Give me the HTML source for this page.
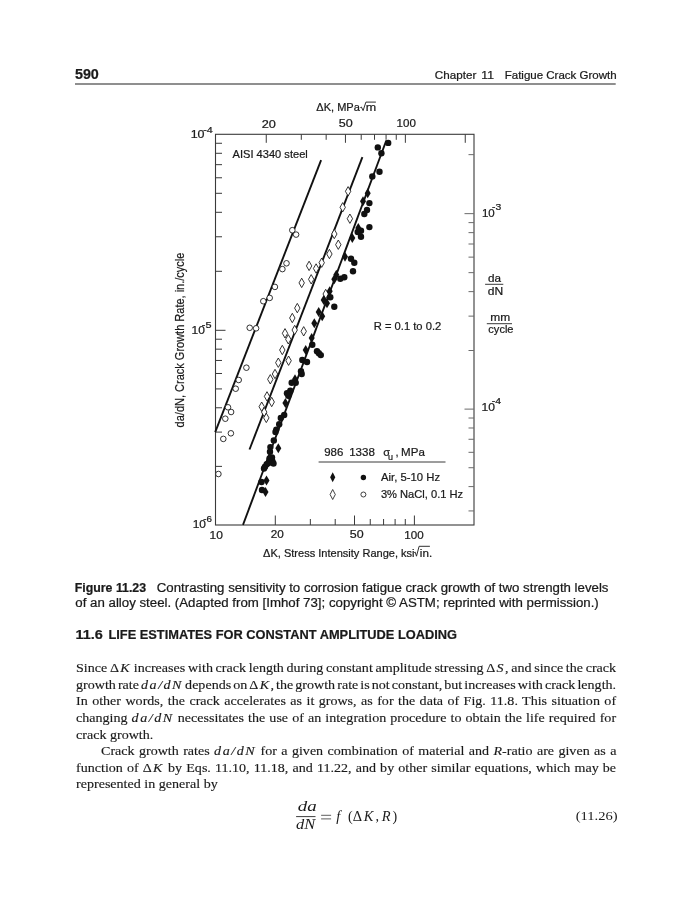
<!DOCTYPE html>
<html><head><meta charset="utf-8"><style>
html,body{margin:0;padding:0;background:#fff}
body{filter:grayscale(1)}
body{width:690px;height:900px;position:relative;overflow:hidden}
svg{position:absolute;left:0;top:0}
.b{position:absolute;height:0;line-height:0;white-space:nowrap;font-family:"Liberation Serif",serif;font-size:13.4px;color:#1a1a1a;transform:scaleX(1.05);transform-origin:0 0;-webkit-text-stroke:0.15px #1a1a1a}
.j{text-align:justify;text-align-last:justify;white-space:normal}
.b span.in{display:inline-block}
i.m{letter-spacing:1.45px}
i.k{margin:0 1.4px 0 1.2px}
.eq{position:absolute;height:0;line-height:0;white-space:nowrap;font-family:"Liberation Serif",serif;font-size:13px;color:#1a1a1a}
</style></head><body>
<svg width="690" height="900" viewBox="0 0 690 900">
<line x1="75" y1="84.1" x2="615.7" y2="84.1" stroke="#6a6a6a" stroke-width="1.5"/>
<rect x="215.5" y="134.3" width="258.5" height="390.7" fill="none" stroke="#3a3a3a" stroke-width="1.1"/>
<line x1="275.30" y1="525.00" x2="275.30" y2="515.50" stroke="#3a3a3a" stroke-width="1"/>
<line x1="310.35" y1="525.00" x2="310.35" y2="519.00" stroke="#3a3a3a" stroke-width="1"/>
<line x1="335.21" y1="525.00" x2="335.21" y2="519.00" stroke="#3a3a3a" stroke-width="1"/>
<line x1="354.50" y1="525.00" x2="354.50" y2="515.50" stroke="#3a3a3a" stroke-width="1"/>
<line x1="370.25" y1="525.00" x2="370.25" y2="519.00" stroke="#3a3a3a" stroke-width="1"/>
<line x1="383.57" y1="525.00" x2="383.57" y2="519.00" stroke="#3a3a3a" stroke-width="1"/>
<line x1="395.11" y1="525.00" x2="395.11" y2="519.00" stroke="#3a3a3a" stroke-width="1"/>
<line x1="405.29" y1="525.00" x2="405.29" y2="519.00" stroke="#3a3a3a" stroke-width="1"/>
<line x1="414.40" y1="525.00" x2="414.40" y2="515.50" stroke="#3a3a3a" stroke-width="1"/>
<line x1="266.26" y1="134.30" x2="266.26" y2="142.80" stroke="#3a3a3a" stroke-width="1"/>
<line x1="301.30" y1="134.30" x2="301.30" y2="139.80" stroke="#3a3a3a" stroke-width="1"/>
<line x1="326.17" y1="134.30" x2="326.17" y2="139.80" stroke="#3a3a3a" stroke-width="1"/>
<line x1="345.45" y1="134.30" x2="345.45" y2="142.80" stroke="#3a3a3a" stroke-width="1"/>
<line x1="361.21" y1="134.30" x2="361.21" y2="139.80" stroke="#3a3a3a" stroke-width="1"/>
<line x1="374.53" y1="134.30" x2="374.53" y2="139.80" stroke="#3a3a3a" stroke-width="1"/>
<line x1="386.07" y1="134.30" x2="386.07" y2="139.80" stroke="#3a3a3a" stroke-width="1"/>
<line x1="396.25" y1="134.30" x2="396.25" y2="139.80" stroke="#3a3a3a" stroke-width="1"/>
<line x1="405.36" y1="134.30" x2="405.36" y2="142.80" stroke="#3a3a3a" stroke-width="1"/>
<line x1="465.26" y1="134.30" x2="465.26" y2="142.80" stroke="#3a3a3a" stroke-width="1"/>
<line x1="215.50" y1="466.39" x2="222.00" y2="466.39" stroke="#3a3a3a" stroke-width="1"/>
<line x1="215.50" y1="432.10" x2="222.00" y2="432.10" stroke="#3a3a3a" stroke-width="1"/>
<line x1="215.50" y1="407.78" x2="222.00" y2="407.78" stroke="#3a3a3a" stroke-width="1"/>
<line x1="215.50" y1="388.91" x2="222.00" y2="388.91" stroke="#3a3a3a" stroke-width="1"/>
<line x1="215.50" y1="373.49" x2="222.00" y2="373.49" stroke="#3a3a3a" stroke-width="1"/>
<line x1="215.50" y1="360.46" x2="222.00" y2="360.46" stroke="#3a3a3a" stroke-width="1"/>
<line x1="215.50" y1="349.17" x2="222.00" y2="349.17" stroke="#3a3a3a" stroke-width="1"/>
<line x1="215.50" y1="339.21" x2="222.00" y2="339.21" stroke="#3a3a3a" stroke-width="1"/>
<line x1="215.50" y1="330.30" x2="225.50" y2="330.30" stroke="#3a3a3a" stroke-width="1"/>
<line x1="215.50" y1="271.30" x2="222.00" y2="271.30" stroke="#3a3a3a" stroke-width="1"/>
<line x1="215.50" y1="236.78" x2="222.00" y2="236.78" stroke="#3a3a3a" stroke-width="1"/>
<line x1="215.50" y1="212.30" x2="222.00" y2="212.30" stroke="#3a3a3a" stroke-width="1"/>
<line x1="215.50" y1="193.30" x2="222.00" y2="193.30" stroke="#3a3a3a" stroke-width="1"/>
<line x1="215.50" y1="177.78" x2="222.00" y2="177.78" stroke="#3a3a3a" stroke-width="1"/>
<line x1="215.50" y1="164.66" x2="222.00" y2="164.66" stroke="#3a3a3a" stroke-width="1"/>
<line x1="215.50" y1="153.29" x2="222.00" y2="153.29" stroke="#3a3a3a" stroke-width="1"/>
<line x1="215.50" y1="143.27" x2="222.00" y2="143.27" stroke="#3a3a3a" stroke-width="1"/>
<line x1="474.00" y1="510.93" x2="468.50" y2="510.93" stroke="#6a6a6a" stroke-width="1"/>
<line x1="474.00" y1="486.60" x2="468.50" y2="486.60" stroke="#6a6a6a" stroke-width="1"/>
<line x1="474.00" y1="467.73" x2="468.50" y2="467.73" stroke="#6a6a6a" stroke-width="1"/>
<line x1="474.00" y1="452.32" x2="468.50" y2="452.32" stroke="#6a6a6a" stroke-width="1"/>
<line x1="474.00" y1="439.28" x2="468.50" y2="439.28" stroke="#6a6a6a" stroke-width="1"/>
<line x1="474.00" y1="427.99" x2="468.50" y2="427.99" stroke="#6a6a6a" stroke-width="1"/>
<line x1="474.00" y1="418.03" x2="468.50" y2="418.03" stroke="#6a6a6a" stroke-width="1"/>
<line x1="474.00" y1="409.12" x2="464.50" y2="409.12" stroke="#6a6a6a" stroke-width="1"/>
<line x1="474.00" y1="350.51" x2="468.50" y2="350.51" stroke="#6a6a6a" stroke-width="1"/>
<line x1="474.00" y1="316.13" x2="468.50" y2="316.13" stroke="#6a6a6a" stroke-width="1"/>
<line x1="474.00" y1="291.64" x2="468.50" y2="291.64" stroke="#6a6a6a" stroke-width="1"/>
<line x1="474.00" y1="272.65" x2="468.50" y2="272.65" stroke="#6a6a6a" stroke-width="1"/>
<line x1="474.00" y1="257.13" x2="468.50" y2="257.13" stroke="#6a6a6a" stroke-width="1"/>
<line x1="474.00" y1="244.01" x2="468.50" y2="244.01" stroke="#6a6a6a" stroke-width="1"/>
<line x1="474.00" y1="232.64" x2="468.50" y2="232.64" stroke="#6a6a6a" stroke-width="1"/>
<line x1="474.00" y1="222.62" x2="468.50" y2="222.62" stroke="#6a6a6a" stroke-width="1"/>
<line x1="474.00" y1="213.65" x2="464.50" y2="213.65" stroke="#6a6a6a" stroke-width="1"/>
<line x1="474.00" y1="154.65" x2="468.50" y2="154.65" stroke="#6a6a6a" stroke-width="1"/>
<line x1="321.1" y1="160.1" x2="215.2" y2="432.2" stroke="#111" stroke-width="1.9"/>
<line x1="362.4" y1="157.2" x2="249.5" y2="449.5" stroke="#111" stroke-width="1.9"/>
<line x1="386.3" y1="140.5" x2="243.0" y2="524.9" stroke="#111" stroke-width="1.9"/>
<g fill="#fff" stroke="#111" stroke-width="0.85">
<circle cx="292.3" cy="230.2" r="2.8"/>
<circle cx="296.1" cy="234.6" r="2.8"/>
<circle cx="286.5" cy="263.3" r="2.8"/>
<circle cx="282.4" cy="269.1" r="2.8"/>
<circle cx="274.9" cy="286.9" r="2.8"/>
<circle cx="269.7" cy="297.9" r="2.8"/>
<circle cx="263.3" cy="301.2" r="2.8"/>
<circle cx="249.7" cy="327.8" r="2.8"/>
<circle cx="256.1" cy="328.3" r="2.8"/>
<circle cx="246.4" cy="367.7" r="2.8"/>
<circle cx="238.7" cy="380" r="2.8"/>
<circle cx="235.7" cy="388.7" r="2.8"/>
<circle cx="228" cy="407.3" r="2.8"/>
<circle cx="231.1" cy="412" r="2.8"/>
<circle cx="225.3" cy="418.7" r="2.8"/>
<circle cx="230.9" cy="433.3" r="2.8"/>
<circle cx="223.3" cy="438.9" r="2.8"/>
<circle cx="218.4" cy="474" r="2.8"/>
<path d="M348.1,186.6L350.8,191.3L348.1,196.0L345.4,191.3Z"/>
<path d="M342.7,202.6L345.4,207.3L342.7,212.0L340.0,207.3Z"/>
<path d="M349.9,214.0L352.6,218.7L349.9,223.4L347.2,218.7Z"/>
<path d="M334.3,229.3L337.0,234.0L334.3,238.7L331.6,234.0Z"/>
<path d="M338.3,240.0L341.0,244.7L338.3,249.4L335.6,244.7Z"/>
<path d="M329.4,249.3L332.1,254.0L329.4,258.7L326.7,254.0Z"/>
<path d="M321.7,258.0L324.4,262.7L321.7,267.4L319.0,262.7Z"/>
<path d="M309.1,261.2L311.8,265.9L309.1,270.6L306.4,265.9Z"/>
<path d="M316.1,263.8L318.8,268.5L316.1,273.2L313.4,268.5Z"/>
<path d="M311.2,274.6L313.9,279.3L311.2,284.0L308.5,279.3Z"/>
<path d="M301.7,278.2L304.4,282.9L301.7,287.6L299.0,282.9Z"/>
<path d="M325.7,289.3L328.4,294.0L325.7,298.7L323.0,294.0Z"/>
<path d="M297.3,303.4L300.0,308.1L297.3,312.8L294.6,308.1Z"/>
<path d="M292.3,313.3L295.0,318.0L292.3,322.7L289.6,318.0Z"/>
<path d="M294.7,325.3L297.4,330.0L294.7,334.7L292.0,330.0Z"/>
<path d="M303.7,326.6L306.4,331.3L303.7,336.0L301.0,331.3Z"/>
<path d="M285.0,328.6L287.7,333.3L285.0,338.0L282.3,333.3Z"/>
<path d="M288.3,334.6L291.0,339.3L288.3,344.0L285.6,339.3Z"/>
<path d="M282.3,345.3L285.0,350.0L282.3,354.7L279.6,350.0Z"/>
<path d="M288.6,356.0L291.3,360.7L288.6,365.4L285.9,360.7Z"/>
<path d="M278.3,358.0L281.0,362.7L278.3,367.4L275.6,362.7Z"/>
<path d="M275.0,369.3L277.7,374.0L275.0,378.7L272.3,374.0Z"/>
<path d="M270.3,374.6L273.0,379.3L270.3,384.0L267.6,379.3Z"/>
<path d="M267.0,391.7L269.7,396.4L267.0,401.1L264.3,396.4Z"/>
<path d="M271.7,397.3L274.4,402.0L271.7,406.7L269.0,402.0Z"/>
<path d="M261.7,402.0L264.4,406.7L261.7,411.4L259.0,406.7Z"/>
<path d="M264.2,407.4L266.9,412.1L264.2,416.8L261.5,412.1Z"/>
<path d="M266.3,413.2L269.0,417.9L266.3,422.6L263.6,417.9Z"/>
</g>
<g fill="#111">
<circle cx="388.2" cy="142.9" r="3.2"/>
<circle cx="377.8" cy="147.4" r="3.2"/>
<circle cx="381.4" cy="153.3" r="3.2"/>
<circle cx="379.5" cy="171.8" r="3.2"/>
<circle cx="372.3" cy="176.4" r="3.2"/>
<circle cx="369.4" cy="203.1" r="3.2"/>
<circle cx="367" cy="210" r="3.2"/>
<circle cx="364.3" cy="214" r="3.2"/>
<circle cx="369.4" cy="227.1" r="3.2"/>
<circle cx="361" cy="230.7" r="3.2"/>
<circle cx="357.7" cy="232" r="3.2"/>
<circle cx="361" cy="236.7" r="3.2"/>
<circle cx="351" cy="258.7" r="3.2"/>
<circle cx="354.3" cy="262.7" r="3.2"/>
<circle cx="353" cy="271.3" r="3.2"/>
<circle cx="340.3" cy="278.7" r="3.2"/>
<circle cx="344.3" cy="277.3" r="3.2"/>
<circle cx="330.3" cy="297.3" r="3.2"/>
<circle cx="334.3" cy="306.7" r="3.2"/>
<circle cx="312.3" cy="344.7" r="3.2"/>
<circle cx="317" cy="351.3" r="3.2"/>
<circle cx="318.9" cy="353.2" r="3.2"/>
<circle cx="320.8" cy="355.1" r="3.2"/>
<circle cx="302.3" cy="360" r="3.2"/>
<circle cx="307" cy="362" r="3.2"/>
<circle cx="301" cy="371.3" r="3.2"/>
<circle cx="301.7" cy="374" r="3.2"/>
<circle cx="291.7" cy="382.7" r="3.2"/>
<circle cx="295.7" cy="382.7" r="3.2"/>
<circle cx="290.3" cy="390.7" r="3.2"/>
<circle cx="287" cy="393.3" r="3.2"/>
<circle cx="288.3" cy="395.8" r="3.2"/>
<circle cx="284.2" cy="415" r="3.2"/>
<circle cx="280.8" cy="417.9" r="3.2"/>
<circle cx="279.2" cy="424.2" r="3.2"/>
<circle cx="276.3" cy="429.6" r="3.2"/>
<circle cx="275.5" cy="432" r="3.2"/>
<circle cx="273.8" cy="440.4" r="3.2"/>
<circle cx="270.4" cy="447.1" r="3.2"/>
<circle cx="270" cy="451.7" r="3.2"/>
<circle cx="271.3" cy="460.8" r="3.2"/>
<circle cx="266.7" cy="464.2" r="3.2"/>
<circle cx="265" cy="466.7" r="3.2"/>
<circle cx="272.5" cy="461.5" r="3.2"/>
<circle cx="272" cy="457.5" r="3.2"/>
<circle cx="269.5" cy="458.5" r="3.2"/>
<circle cx="268.5" cy="463" r="3.2"/>
<circle cx="264" cy="468.5" r="3.2"/>
<circle cx="273.5" cy="463.5" r="3.2"/>
<circle cx="261.5" cy="482" r="3.2"/>
<circle cx="262" cy="490" r="3.2"/>
<path d="M367.7,188.3L370.7,193.3L367.7,198.3L364.7,193.3Z"/>
<path d="M363.0,196.3L366.0,201.3L363.0,206.3L360.0,201.3Z"/>
<path d="M358.3,223.0L361.3,228.0L358.3,233.0L355.3,228.0Z"/>
<path d="M352.3,233.0L355.3,238.0L352.3,243.0L349.3,238.0Z"/>
<path d="M345.0,251.7L348.0,256.7L345.0,261.7L342.0,256.7Z"/>
<path d="M336.3,269.7L339.3,274.7L336.3,279.7L333.3,274.7Z"/>
<path d="M334.3,274.3L337.3,279.3L334.3,284.3L331.3,279.3Z"/>
<path d="M329.7,286.3L332.7,291.3L329.7,296.3L326.7,291.3Z"/>
<path d="M323.7,295.0L326.7,300.0L323.7,305.0L320.7,300.0Z"/>
<path d="M327.0,298.3L330.0,303.3L327.0,308.3L324.0,303.3Z"/>
<path d="M314.3,318.3L317.3,323.3L314.3,328.3L311.3,323.3Z"/>
<path d="M311.7,333.0L314.7,338.0L311.7,343.0L308.7,338.0Z"/>
<path d="M305.7,345.0L308.7,350.0L305.7,355.0L302.7,350.0Z"/>
<path d="M295.0,374.3L298.0,379.3L295.0,384.3L292.0,379.3Z"/>
<path d="M289.0,390.3L292.0,395.3L289.0,400.3L286.0,395.3Z"/>
<path d="M285.4,397.9L288.4,402.9L285.4,407.9L282.4,402.9Z"/>
<path d="M278.3,443.3L281.3,448.3L278.3,453.3L275.3,448.3Z"/>
<path d="M266.5,475.5L269.5,480.5L266.5,485.5L263.5,480.5Z"/>
<path d="M265.5,487.0L268.5,492.0L265.5,497.0L262.5,492.0Z"/>
<path d="M318.7,307.0L321.7,312.0L318.7,317.0L315.7,312.0Z"/>
<path d="M322.2,311.3L325.2,316.3L322.2,321.3L319.2,316.3Z"/>
</g>
<line x1="318.6" y1="462" x2="445.5" y2="462" stroke="#3a3a3a" stroke-width="1"/>
<path d="M332.7,472.3L335.3,477.3L332.7,482.3L330.1,477.3Z" fill="#111"/>
<circle cx="363.4" cy="477.5" r="2.7" fill="#111"/>
<path d="M332.7,489.5L335.3,494.5L332.7,499.5L330.1,494.5Z" fill="#fff" stroke="#111" stroke-width="0.8"/>
<circle cx="363.4" cy="494.5" r="2.5" fill="#fff" stroke="#111" stroke-width="0.8"/>
<line x1="485.1" y1="284.3" x2="503.3" y2="284.3" stroke="#222" stroke-width="0.9"/>
<line x1="486.8" y1="323.7" x2="512" y2="323.7" stroke="#222" stroke-width="0.9"/>
<g font-family="Liberation Sans, sans-serif" fill="#1a1a1a" stroke="#1a1a1a" stroke-width="0.22" style="white-space:pre">
<text x="316.31" y="110.90" font-size="11.0" textLength="43.49" lengthAdjust="spacingAndGlyphs">ΔK, MPa</text>
<text x="365.84" y="110.90" font-size="11.0" textLength="10.42" lengthAdjust="spacingAndGlyphs">m</text>
<text x="261.81" y="128.20" font-size="11.0" textLength="14.16" lengthAdjust="spacingAndGlyphs">20</text>
<text x="338.79" y="127.00" font-size="11.0" textLength="13.98" lengthAdjust="spacingAndGlyphs">50</text>
<text x="396.59" y="127.00" font-size="11.0" textLength="19.32" lengthAdjust="spacingAndGlyphs">100</text>
<text x="190.68" y="138.10" font-size="11.0" textLength="13.88" lengthAdjust="spacingAndGlyphs">10</text>
<text x="203.25" y="132.90" font-size="9.0" textLength="9.48" lengthAdjust="spacingAndGlyphs">-4</text>
<text x="232.52" y="158.20" font-size="11.0" textLength="75.27" lengthAdjust="spacingAndGlyphs">AISI 4340 steel</text>
<text x="191.62" y="333.90" font-size="11.0" textLength="13.35" lengthAdjust="spacingAndGlyphs">10</text>
<text x="201.86" y="328.20" font-size="9.0" textLength="9.70" lengthAdjust="spacingAndGlyphs">-5</text>
<text x="192.72" y="527.90" font-size="11.0" textLength="13.28" lengthAdjust="spacingAndGlyphs">10</text>
<text x="203.19" y="522.00" font-size="9.0" textLength="8.70" lengthAdjust="spacingAndGlyphs">-6</text>
<text x="209.55" y="538.80" font-size="11.0" textLength="13.36" lengthAdjust="spacingAndGlyphs">10</text>
<text x="270.68" y="538.20" font-size="11.0" textLength="13.09" lengthAdjust="spacingAndGlyphs">20</text>
<text x="349.82" y="538.20" font-size="11.0" textLength="13.86" lengthAdjust="spacingAndGlyphs">50</text>
<text x="404.31" y="539.20" font-size="11.0" textLength="19.37" lengthAdjust="spacingAndGlyphs">100</text>
<text x="263.09" y="556.90" font-size="11.0" textLength="151.49" lengthAdjust="spacingAndGlyphs">ΔK, Stress Intensity Range, ksi</text>
<text x="419.87" y="556.90" font-size="11.0" textLength="12.30" lengthAdjust="spacingAndGlyphs">in.</text>
<text x="481.92" y="217.00" font-size="11.0" textLength="12.80" lengthAdjust="spacingAndGlyphs">10</text>
<text x="491.99" y="209.80" font-size="9.0" textLength="9.26" lengthAdjust="spacingAndGlyphs">-3</text>
<text x="481.45" y="411.20" font-size="11.0" textLength="13.48" lengthAdjust="spacingAndGlyphs">10</text>
<text x="491.77" y="404.00" font-size="9.0" textLength="9.30" lengthAdjust="spacingAndGlyphs">-4</text>
<text x="488.00" y="281.80" font-size="11.0" textLength="13.02" lengthAdjust="spacingAndGlyphs">da</text>
<text x="487.84" y="295.00" font-size="11.0" textLength="15.39" lengthAdjust="spacingAndGlyphs">dN</text>
<text x="490.39" y="321.10" font-size="11.0" textLength="19.88" lengthAdjust="spacingAndGlyphs">mm</text>
<text x="488.32" y="332.70" font-size="11.0" textLength="25.21" lengthAdjust="spacingAndGlyphs">cycle</text>
<text x="373.73" y="330.00" font-size="11.0" textLength="67.54" lengthAdjust="spacingAndGlyphs">R = 0.1 to 0.2</text>
<text x="324.22" y="456.10" font-size="11.0" textLength="19.10" lengthAdjust="spacingAndGlyphs">986</text>
<text x="349.17" y="456.10" font-size="11.0" textLength="25.70" lengthAdjust="spacingAndGlyphs">1338</text>
<text x="383.13" y="456.10" font-size="11.0">σ</text>
<text x="388.01" y="459.90" font-size="9.0">u</text>
<text x="395.46" y="456.10" font-size="11.0">,</text>
<text x="401.13" y="456.10" font-size="11.0" textLength="23.72" lengthAdjust="spacingAndGlyphs">MPa</text>
<text x="381.08" y="481.30" font-size="11.0" textLength="58.99" lengthAdjust="spacingAndGlyphs">Air, 5-10 Hz</text>
<text x="380.91" y="498.20" font-size="11.0" textLength="82.17" lengthAdjust="spacingAndGlyphs">3% NaCl, 0.1 Hz</text>
<text x="74.92" y="79.00" font-size="14.0" textLength="23.94" lengthAdjust="spacingAndGlyphs" font-weight="bold">590</text>
<text x="434.88" y="78.80" font-size="11.0" textLength="41.45" lengthAdjust="spacingAndGlyphs">Chapter</text>
<text x="481.33" y="78.80" font-size="11.0" textLength="12.62" lengthAdjust="spacingAndGlyphs">11</text>
<text x="504.70" y="78.80" font-size="11.0" textLength="112.01" lengthAdjust="spacingAndGlyphs">Fatigue Crack Growth</text>
<text x="74.75" y="592.00" font-size="12.0" textLength="71.34" lengthAdjust="spacingAndGlyphs" font-weight="bold">Figure 11.23</text>
<text x="156.78" y="592.00" font-size="12.0" textLength="451.71" lengthAdjust="spacingAndGlyphs">Contrasting sensitivity to corrosion fatigue crack growth of two strength levels</text>
<text x="75.39" y="606.80" font-size="12.0" textLength="523.38" lengthAdjust="spacingAndGlyphs">of an alloy steel. (Adapted from [Imhof 73]; copyright © ASTM; reprinted with permission.)</text>
<text x="75.42" y="638.50" font-size="13.5" textLength="27.47" lengthAdjust="spacingAndGlyphs" font-weight="bold">11.6</text>
<text x="108.42" y="638.50" font-size="13.5" textLength="348.67" lengthAdjust="spacingAndGlyphs" font-weight="bold">LIFE ESTIMATES FOR CONSTANT AMPLITUDE LOADING</text>
<text x="297.69" y="810.60" font-size="14.0" textLength="18.95" lengthAdjust="spacingAndGlyphs" font-family="Liberation Serif" stroke="none" font-style="italic">da</text>
<text x="296.12" y="829.30" font-size="14.0" textLength="19.21" lengthAdjust="spacingAndGlyphs" font-family="Liberation Serif" stroke="none" font-style="italic">dN</text>
<text x="336.37" y="820.50" font-size="14.5" font-family="Liberation Serif" stroke="none" font-style="italic">f</text>
<text x="348.00" y="820.50" font-size="14.0" font-family="Liberation Serif" stroke="none">(</text>
<text x="352.69" y="820.50" font-size="14.5" font-family="Liberation Serif" stroke="none">Δ</text>
<text x="363.77" y="820.50" font-size="14.5" font-family="Liberation Serif" stroke="none" font-style="italic">K</text>
<text x="375.39" y="820.50" font-size="14.0" font-family="Liberation Serif" stroke="none">,</text>
<text x="381.79" y="820.50" font-size="14.5" font-family="Liberation Serif" stroke="none" font-style="italic">R</text>
<text x="392.44" y="820.50" font-size="14.0" font-family="Liberation Serif" stroke="none">)</text>
<text x="575.76" y="819.90" font-size="13.4" textLength="41.86" lengthAdjust="spacingAndGlyphs" font-family="Liberation Serif" stroke="none">(11.26)</text>
<path d="M360.3,107.6 L361.4,107.0 L363.1,110.6 L365.9,102.1 L375.9,102.1" fill="none" stroke="#1a1a1a" stroke-width="0.9"/>
<path d="M414.2,552.6 L415.2,552.1 L416.5,556.2 L419.1,546.3 L429.9,546.3" fill="none" stroke="#1a1a1a" stroke-width="0.9"/>
<text transform="translate(184.4,427.4) rotate(-90)" font-size="12" textLength="174.8" lengthAdjust="spacingAndGlyphs">da/dN, Crack Growth Rate, in./cycle</text>
</g>
<line x1="296.1" y1="816.6" x2="315.5" y2="816.6" stroke="#1a1a1a" stroke-width="0.85"/>
<line x1="321.1" y1="815.3" x2="331.1" y2="815.3" stroke="#1a1a1a" stroke-width="0.7"/>
<line x1="321.1" y1="818.9" x2="331.1" y2="818.9" stroke="#1a1a1a" stroke-width="0.7"/>
</svg>
<div class="b j" style="top:668.30px;left:75.9px;width:514.38px;word-spacing:-1.1px">Since Δ<i class="k">K</i> increases with crack length during constant amplitude stressing Δ<i class="k">S</i>, and since the crack</div>
<div class="b j" style="top:684.85px;left:75.9px;width:514.38px;word-spacing:-1.7px">growth rate <i class="m">da/dN</i> depends on Δ<i class="k">K</i>, the growth rate is not constant, but increases with crack length.</div>
<div class="b j" style="top:701.40px;left:75.9px;width:514.38px">In other words, the crack accelerates as it grows, as for the data of Fig. 11.8. This situation of</div>
<div class="b j" style="top:717.95px;left:75.9px;width:514.38px">changing <i class="m">da/dN</i> necessitates the use of an integration procedure to obtain the life required for</div>
<div class="b" style="top:734.50px;left:75.9px;width:514.38px">crack growth.</div>
<div class="b j" style="top:751.05px;left:100.6px;width:490.86px">Crack growth rates <i class="m">da/dN</i> for a given combination of material and <i>R</i>-ratio are given as a</div>
<div class="b j" style="top:767.60px;left:75.9px;width:514.38px">function of Δ<i class="k">K</i> by Eqs. 11.10, 11.18, and 11.22, and by other similar equations, which may be</div>
<div class="b" style="top:784.15px;left:75.9px;width:514.38px">represented in general by</div>
</body></html>
